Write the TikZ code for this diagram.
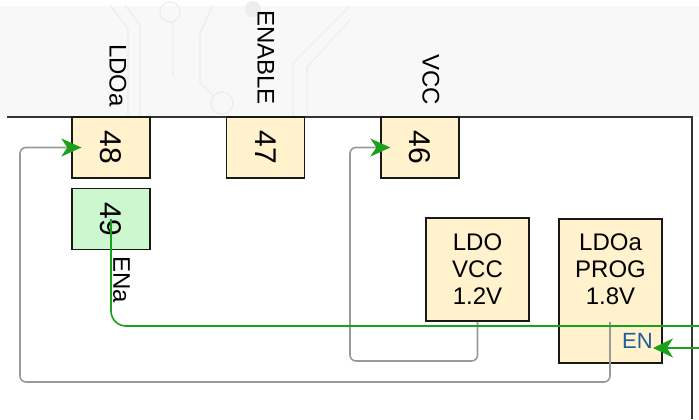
\documentclass[tikz,border=0pt]{standalone}
\usepackage{fontspec}
\setmainfont{Liberation Sans}
\usetikzlibrary{arrows.meta}
\definecolor{jaune}{HTML}{FFF2CC}
\definecolor{vert}{HTML}{CCF7CF}
\definecolor{fil}{HTML}{1AA01A}
\definecolor{bleu}{HTML}{1F5C99}
\definecolor{gris}{HTML}{9A9A9A}
\definecolor{fond}{HTML}{F8F8F8}
\definecolor{piste}{HTML}{EDEDED}

\begin{document}
\begin{tikzpicture}[x=1bp,y=-1bp,
	broche/.style={draw=black!90,line width=1.3bp,fill=jaune,minimum width=78bp,minimum height=61bp,inner sep=0pt,font=\fontsize{30bp}{30bp}\selectfont},
	bloc/.style={draw=black!90,line width=1.5bp,fill=jaune,minimum width=103bp,minimum height=103bp,inner sep=0pt},
	texte/.style={align=center,inner sep=0pt,font=\fontsize{24bp}{27bp}\selectfont},
	nom/.style={inner sep=0pt,font=\fontsize{24bp}{24bp}\selectfont},
	liaison/.style={gris,line width=1.6bp,rounded corners=6bp},
	fleche/.style={-{Stealth[length=20bp,width=18bp,inset=6bp,color=fil]},shorten >=-10bp}]
		\useasboundingbox (0,0) rectangle (699,419);
		\fill[white] (0,0) rectangle (699,419);
		\fill[fond] (0,6) rectangle (699,117);
		
		% pistes du fond
		\draw[piste,line width=1.3bp] (125,5)--(140,25)--(140,117);
		\draw[piste,line width=1.3bp] (110,5)--(128,28)--(128,117);
		\draw[piste,line width=1.3bp] (170,12) circle (10) (173,22)--(173,77);
		\draw[piste,line width=1.3bp] (213,5)--(200,33)--(200,83)--(213,95);
		\draw[piste,line width=1.3bp] (222,103) circle (11);
		\fill[piste] (253,9) circle (8);
		\draw[piste,line width=1.3bp] (350,6)--(293,63)--(293,117);
		\draw[piste,line width=1.3bp] (350,20)--(307,67)--(307,117);
		
		\draw[black!80,line width=1.8bp] (7,117)--(692,117)--(692,419);%boitier
		
		\node[broche] (b48) at (111,147.5) {\rotatebox{-90}{48}};
		\node[broche] (b47) at (265.5,147.5) {\rotatebox{-90}{47}};
		\node[broche] (b46) at (420,147.5) {\rotatebox{-90}{46}};
		\node[broche,fill=vert] (b49) at (111,219) {\rotatebox{-90}{49}};
		
		\node[nom,anchor=south] (nLDOa) at (118,107) {\rotatebox{-90}{LDOa}};
		\node[nom,anchor=south] (nEnable) at (266,105) {\rotatebox{-90}{ENABLE}};
		\node[nom,anchor=south] (nVcc) at (431,105) {\rotatebox{-90}{VCC}};
		\node[nom,anchor=north west] (nENa) at (113,256) {\rotatebox{-90}{ENa}};
		
		\node[bloc,texte] (lvcc) at (477.5,269.5) {LDO\\VCC\\1.2V};
		\node[bloc,minimum height=144bp,anchor=north] (prog) at (610.5,218) {};
		\node[texte] (tprog) at (610.5,269.5) {LDOa\\PROG\\1.8V};
		\node[inner sep=0pt,text=bleu,font=\fontsize{22bp}{22bp}\selectfont,anchor=base east] (en) at (653,348) {EN};
		
		\coordinate (sortieProg) at (610,322);
		\coordinate (enaFin) at (699,326);
		\coordinate (enEntree) at (699,348);
		
		\draw[liaison,fleche] (sortieProg) |- (20,382) |- (b48.west);
		\draw[liaison,fleche] (lvcc.south) |- (350,361) |- (b46.west);
		\draw[fil,line width=1.6bp,rounded corners=15bp] (b49.center) |- (enaFin);%fil ENa
		\draw[fil,line width=1.6bp,-{Stealth[length=20bp,width=19bp,inset=6bp]}] (enEntree) -- (en.base east);
		
	\end{tikzpicture}
\end{document}
